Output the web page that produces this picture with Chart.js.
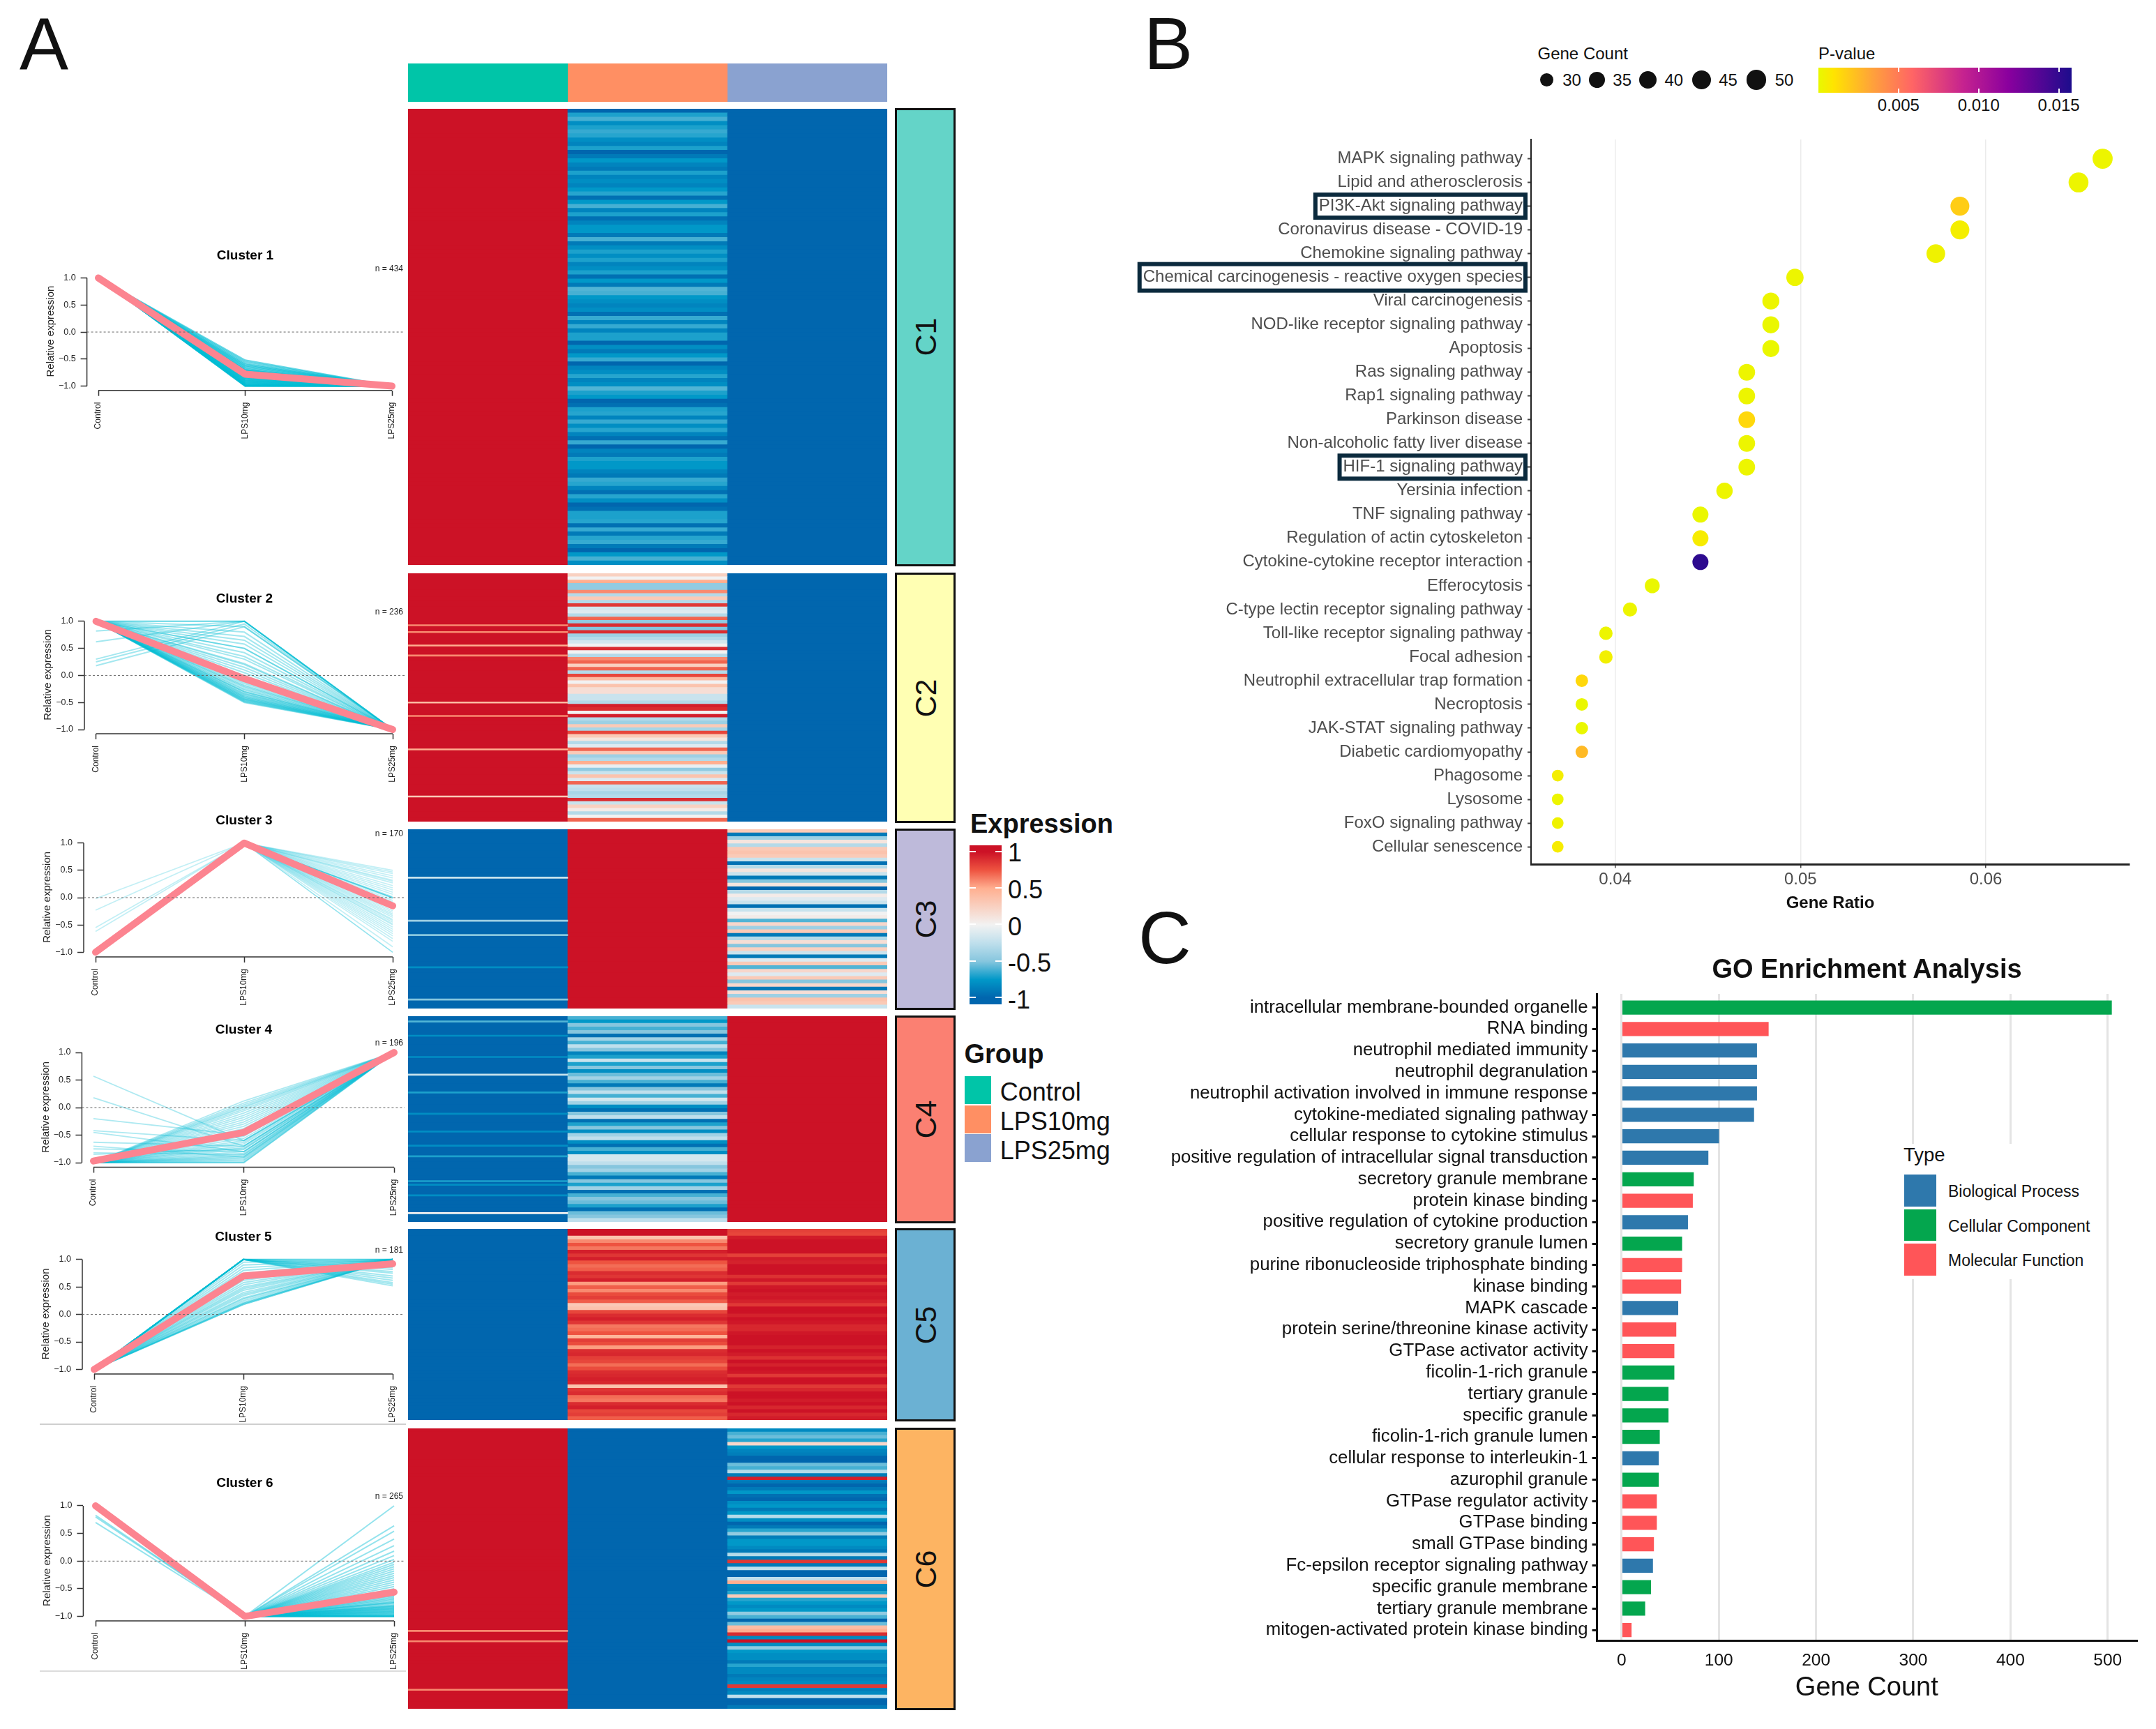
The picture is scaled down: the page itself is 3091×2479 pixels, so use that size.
<!DOCTYPE html>
<html>
<head>
<meta charset="utf-8">
<title>LPS expression clusters and enrichment</title>
<script src="https://cdn.jsdelivr.net/npm/chart.js@4/dist/chart.umd.min.js"></script>
<style>
html, body { margin: 0; padding: 0; background: #fff; }
#page { position: relative; width: 3091px; height: 2479px; overflow: hidden; background: #fff; font-family: "Liberation Sans", Arial, sans-serif; }
#page canvas { position: absolute; }
.lbl { position: absolute; white-space: nowrap; line-height: 1; }
.box { position: absolute; box-sizing: border-box; }
</style>
</head>
<body>
<div id="page"></div>
<script>
// ---- panel A: line plots ----
var groups = ['Control', 'LPS10mg', 'LPS25mg'];
var clusterNames = ['Cluster 1', 'Cluster 2', 'Cluster 3', 'Cluster 4', 'Cluster 5', 'Cluster 6'];
var clusterCounts = [434, 236, 170, 196, 181, 265];
var clusterMeans = [[1, -0.78, -1], [1, -0.06, -1], [-1, 1, -0.15], [-0.97, -0.45, 1], [-1, 0.7, 0.92], [1, -1, -0.56]];
var yTicks = [-1, -0.5, 0, 0.5, 1];

var c1Mid = [-0.52, -0.55, -0.58, -0.6, -0.62, -0.64, -0.66, -0.68, -0.7, -0.7, -0.72, -0.74, -0.75, -0.76, -0.78, -0.8, -0.8, -0.82, -0.83, -0.84, -0.85, -0.86, -0.87, -0.88, -0.89, -0.9, -0.91, -0.92, -0.93, -0.94, -0.95, -0.96, -0.96, -0.97, -0.98, -0.98, -0.99, -0.99, -1, -1];
var c2Mid = [1, 1, 0.9, 0.8, 0.72, 0.65, 0.58, 0.5, 0.5, 0.42, 0.35, 0.3, 0.22, 0.2, 0.15, 0.1, 0.05, 0, -0.05, -0.08, -0.12, -0.15, -0.18, -0.2, -0.22, -0.25, -0.27, -0.3, -0.3, -0.32, -0.34, -0.35, -0.37, -0.38, -0.4, -0.4, -0.42, -0.43, -0.44, -0.45, -0.46, -0.47, -0.48, -0.49, -0.5];
var c2OddControl = [0.18, 0.25, 0.3, 0.62, 0.82];
var c2OddMid = [0.9, 0.95, 1, 1, 1];
var c3End = [0.5, 0.47, 0.44, 0.4, 0.36, 0.32, 0.3, 0.27, 0.22, 0.18, 0.14, 0.1, 0.06, 0.02, -0.02, -0.05, -0.08, -0.12, -0.15, -0.18, -0.2, -0.24, -0.27, -0.3, -0.33, -0.36, -0.4, -0.42, -0.45, -0.48, -0.5, -0.54, -0.58, -0.62, -0.66, -0.7, -0.75, -0.8, -0.9, -1, -1];
var c3OddControl = [-0.02, -0.23, -0.55, -0.62];
var c4Mid = [0.12, 0.08, 0.05, 0.02, 0, -0.03, -0.06, -0.1, -0.14, -0.18, -0.22, -0.26, -0.3, -0.34, -0.38, -0.42, -0.46, -0.5, -0.52, -0.56, -0.6, -0.63, -0.66, -0.7, -0.73, -0.76, -0.8, -0.83, -0.86, -0.88, -0.9, -0.92, -0.94, -0.96, -0.98, -1, -1];
var c4OddControl = [0.57, 0.18, -0.2, -0.42, -0.45, -0.63, -0.7, -0.75, -0.82, -0.85];
var c4OddMid = [-0.6, -0.7, -0.5, -0.6, -0.8, -0.7, -0.9, -0.8, -0.85, -0.75];
var c5Mid = [1, 1, 0.95, 0.9, 0.85, 0.8, 0.75, 0.7, 0.66, 0.62, 0.58, 0.54, 0.5, 0.47, 0.44, 0.4, 0.37, 0.34, 0.3, 0.28, 0.25, 0.22, 0.2, 0.18, 0.18, 0.2];
var c5End = [0.52, 0.55, 0.58, 0.62, 0.66, 0.7, 0.75, 0.78, 0.82, 0.85, 0.9, 0.95];
var c6End = [1, 0.64, 0.54, 0.4, 0.28, 0.18, 0.1, 0.03, -0.02, -0.06, -0.1, -0.14, -0.18, -0.22, -0.26, -0.3, -0.34, -0.38, -0.42, -0.46, -0.5, -0.54, -0.58, -0.6, -0.62, -0.64, -0.66, -0.68, -0.7, -0.72, -0.74, -0.75, -0.76, -0.78, -0.8, -0.81, -0.82, -0.83, -0.84, -0.85, -0.86, -0.87, -0.88, -0.89, -0.9, -0.91, -0.92, -0.93, -0.94, -0.95, -0.96, -0.97, -0.98, -0.99, -1, -1];
var c6OddControl = [0.83, 0.8, 0.7];

// ---- panel A: heatmap, rows top to bottom ----
var heatC1Mid = [-1, -0.7, -0.62, -0.8, -0.7, -0.65, -0.68, -0.8, -0.85, -0.7, -1, -0.9, -0.75, -0.85, -0.9, -0.7, -0.85, -0.8, -0.85, -0.75, -0.68, -0.95, -0.75, -0.62, -0.85, -0.7, -0.95, -0.85, -0.75, -0.75, -0.9, -0.62, -0.9, -0.8, -0.7, -0.8, -0.7, -0.85, -0.8, -0.7, -0.95,
  -0.75, -0.9, -0.6, -0.62, -0.75, -0.8, -0.85, -0.8, -0.95, -0.65, -0.85, -0.65, -0.85, -0.7, -0.7, -1, -0.8, -0.9, -0.75, -0.65, -1, -0.85, -0.8, -0.68, -0.85, -0.8, -0.6, -0.7, -0.75, -1, -0.95, -0.7, -0.68, -0.85, -0.65, -0.8, -0.68, -0.85, -0.95, -0.65, -1, -0.85, -0.9, -0.7, -0.75, -0.75, -0.85, -0.9, -0.65, -0.68, -0.85, -0.95, -0.68, -0.8, -1, -0.95, -0.7, -0.7, -0.68, -0.95, -0.65, -0.9, -0.68, -0.65, -0.9, -1, -0.75, -0.62, -0.8];
var heatC2Mid = [0.25, 0, 0.5, -0.45, -0.45, 0.6, -0.3, 0.3, -0.3, 0.85, -0.15, -0.1, -0.3, 0.7, -0.45, 0.9, -0.5, 0.9, -0.4, -0.3, -0.15, 0, 0.9, 0, -0.3, 0.6, 0.7, 0.25, 0.7, -0.3, 0.8, 0.4, 0, 0.35, 0.15, 0.15, -0.2, -0.2, -0.3, 0.95, 0.9, 0, 0.95, -0.3, -0.4, 0.3, -0.35, 0.8, 0.3, 0.1, -0.3, -0.1, 0.7, 0.3, -0.4, -0.3, 0.5, -0.05, -0.45, -0.2, 0.35, -0.1, 0.7, -0.2, -0.25, -0.35, -0.3, 0.9, -0.2, 0.25, 0.05, -0.3, 0, 0.7];
var heatC3End = [0.3, -0.9, -0.4, 0.1, -0.3, 0.3, 0.35, 0.3, -0.2, -0.95, -0.3, 0.1, -0.2, -0.9, -0.5, 0.1, -1, -0.3, 0.05, -0.1, -0.2, -0.95, -0.2, 0, 0.05, -0.6, 0.2, -0.4, 0.3, -0.9, -0.3, 0.15, -0.5, 0.25, -0.2, -0.9, -0.1, 0.3, -0.6, 0.2, -0.1, 0.3, -0.5, 0.2, -0.9, 0.15, -0.4, 0.35, 0.3, -0.2];
var heatC4Mid = [-0.62, -0.75, -0.5, -0.62, -0.5, -0.95, -0.38, -0.62, -0.25, -0.5, -0.85, -0.7, -0.2, -0.7, -0.5, -0.8, -0.55, -0.38, -0.62, -0.9, -0.5, -0.25, -0.62, -0.15, -0.38, -0.8, -0.95, -0.5, -0.25, -0.95, -0.7, -0.5, -0.8, -0.38, -0.25, -0.8, -0.95, -0.62, -0.8, -0.15, -0.15, -0.25, -0.5, -0.38, -0.62, -0.9, -0.5, -0.7, -0.38, -0.95, -0.62, -0.5, -0.55, -0.7, -0.95, -0.55, -0.5, -0.25];
var heatC5Mid = [1, 1, 0.35, 0.6, 0.75, 0.65, 0.95, 0.86, 0.95, 0.75, 0.68, 0.72, 0.9, 0.86, 0.95, 0.55, 0.72, 0.6, 0.78, 0.83, 0.72, 0.3, 0.35, 0.8, 0.9, 0.95, 0.86, 0.65, 0.68, 0.75, 0.45, 0.83, 0.78, 0.55, 0.9, 0.92, 0.83, 0.8, 0.68, 0.78, 0.9, 0.92, 0.95, 0.92, 0.35, 0.86, 0.9, 0.68, 0.65, 0.9, 0.95, 0.8, 0.83, 0.72];
var heatC5End = [0.82, 0.8, 0.96, 1, 1, 1, 1, 0.82, 0.96, 0.94, 1, 1, 1, 0.88, 0.98, 0.85, 0.98, 1, 0.96, 0.98, 0.94, 0.85, 1, 1, 0.94, 1, 0.98, 0.92, 0.92, 0.98, 1, 1, 1, 0.94, 1, 0.96, 0.88, 1, 0.94, 1, 0.98, 0.85, 1, 1, 0.85, 0.92, 1, 1, 0.96, 1, 0.92, 1, 0.92, 0.96];
var heatC6End = [-0.82, -0.62, -0.55, -0.68, 0.2, -0.75, -0.85, -0.88, -1, -1, -0.55, -0.62, -0.3, -0.88, 0.95, -0.9, -1, -0.9, -0.75, -0.95, -1, -0.8, -0.75, -0.9, -0.75, -0.3, -0.8, -1, -0.9, -0.68, -0.45, -0.88, -0.75, -0.75, -0.82, -0.9, -0.3, -0.9, 0.85, -0.9, -0.25, -1, -1, -0.25, 0.5, -0.82, -0.85, -0.68, 0.3, -0.68, -0.75, -0.82, -0.75, -0.45, -0.62, -1, -0.55, 0.4, 0.5, 0.9, -0.82, 1, -0.8, -0.45, -0.75, -0.8, -0.8, -0.9, -0.68, -0.82, -0.82, -0.9, -0.85, -0.82, 0.85, -0.88, -0.82, -0.25, -1, -1, -0.9];
// thin lone lines in the otherwise flat Control column: row index, value
var heatC2ControlRows = [15, 17, 21, 24, 38, 42, 52, 66];
var heatC2ControlVals = [0.6, 0.6, 0.5, 0.6, 0.4, 0.6, 0.5, 0.3];
var heatC3ControlRows = [13, 25, 29, 38, 47];
var heatC3ControlVals = [-0.2, -0.4, -0.5, -0.8, -0.5];
var heatC4ControlRows = [1, 5, 11, 16, 21, 27, 32, 36, 39, 46, 47, 50, 55];
var heatC4ControlVals = [-0.6, -0.8, -0.8, -0.2, -0.7, -0.8, -0.8, -0.8, -0.7, -0.7, -0.8, -0.8, 0];
var heatC6ControlRows = [58, 61, 75];
var heatC6ControlVals = [0.6, 0.6, 0.6];

// ---- panel B ----
var pathways = ['MAPK signaling pathway', 'Lipid and atherosclerosis', 'PI3K-Akt signaling pathway', 'Coronavirus disease - COVID-19', 'Chemokine signaling pathway', 'Chemical carcinogenesis - reactive oxygen species', 'Viral carcinogenesis', 'NOD-like receptor signaling pathway', 'Apoptosis', 'Ras signaling pathway', 'Rap1 signaling pathway', 'Parkinson disease', 'Non-alcoholic fatty liver disease', 'HIF-1 signaling pathway', 'Yersinia infection', 'TNF signaling pathway', 'Regulation of actin cytoskeleton', 'Cytokine-cytokine receptor interaction', 'Efferocytosis', 'C-type lectin receptor signaling pathway', 'Toll-like receptor signaling pathway', 'Focal adhesion', 'Neutrophil extracellular trap formation', 'Necroptosis', 'JAK-STAT signaling pathway', 'Diabetic cardiomyopathy', 'Phagosome', 'Lysosome', 'FoxO signaling pathway', 'Cellular senescence'];
var geneRatio = [0.0663, 0.065, 0.0586, 0.0586, 0.0573, 0.0497, 0.0484, 0.0484, 0.0484, 0.0471, 0.0471, 0.0471, 0.0471, 0.0471, 0.0459, 0.0446, 0.0446, 0.0446, 0.042, 0.0408, 0.0395, 0.0395, 0.0382, 0.0382, 0.0382, 0.0382, 0.0369, 0.0369, 0.0369, 0.0369];
var pathwayCount = [50, 49, 44, 44, 43, 38, 37, 37, 37, 36, 36, 36, 36, 36, 35, 34, 34, 34, 32, 31, 30, 30, 29, 29, 29, 29, 28, 28, 28, 28];
var pathwayP = [0.0002, 0.0002, 0.0018, 0.0005, 0.0003, 0.0002, 0.0002, 0.0001, 0.0001, 0.0002, 0.0002, 0.0014, 0.0002, 0.0002, 0.0002, 0.0001, 0.0006, 0.0152, 0.0001, 0.0002, 0.0002, 0.0004, 0.0014, 0.0001, 0.0001, 0.0025, 0.0005, 0.0002, 0.0003, 0.0006];
var boxedPathways = ['PI3K-Akt signaling pathway', 'Chemical carcinogenesis - reactive oxygen species', 'HIF-1 signaling pathway'];
var ratioTicks = [0.04, 0.05, 0.06];
var countLegend = [30, 35, 40, 45, 50];
var pLegendTicks = [0.005, 0.01, 0.015];

// ---- panel C ----
var goTerms = ['intracellular membrane-bounded organelle', 'RNA binding', 'neutrophil mediated immunity', 'neutrophil degranulation', 'neutrophil activation involved in immune response', 'cytokine-mediated signaling pathway', 'cellular response to cytokine stimulus', 'positive regulation of intracellular signal transduction', 'secretory granule membrane', 'protein kinase binding', 'positive regulation of cytokine production', 'secretory granule lumen', 'purine ribonucleoside triphosphate binding', 'kinase binding', 'MAPK cascade', 'protein serine/threonine kinase activity', 'GTPase activator activity', 'ficolin-1-rich granule', 'tertiary granule', 'specific granule', 'ficolin-1-rich granule lumen', 'cellular response to interleukin-1', 'azurophil granule', 'GTPase regulator activity', 'GTPase binding', 'small GTPase binding', 'Fc-epsilon receptor signaling pathway', 'specific granule membrane', 'tertiary granule membrane', 'mitogen-activated protein kinase binding'];
var goCounts = [504, 151, 139, 139, 139, 136, 100, 89, 74, 73, 68, 62, 62, 61, 58, 56, 54, 54, 48, 48, 39, 38, 38, 36, 36, 33, 32, 30, 24, 10];
var goTypes = ['CC', 'MF', 'BP', 'BP', 'BP', 'BP', 'BP', 'BP', 'CC', 'MF', 'BP', 'CC', 'MF', 'MF', 'BP', 'MF', 'MF', 'CC', 'CC', 'CC', 'CC', 'BP', 'CC', 'MF', 'MF', 'MF', 'BP', 'CC', 'CC', 'MF'];
var typeNames = ['Biological Process', 'Cellular Component', 'Molecular Function'];
var countTicks = [0, 100, 200, 300, 400, 500];

// ---- helpers ----
var page = document.getElementById('page');
var FONT = '"Liberation Sans", Arial, sans-serif';
Chart.defaults.font.family = FONT;
Chart.defaults.animation = false;

function addCanvas(x, y, w, h) {
  var c = document.createElement('canvas');
  c.width = w; c.height = h;
  c.style.left = x + 'px'; c.style.top = y + 'px';
  c.style.width = w + 'px'; c.style.height = h + 'px';
  page.appendChild(c);
  return c;
}
function addText(str, x, y, size, o) {
  o = o || {};
  var d = document.createElement('div');
  d.className = 'lbl';
  d.textContent = str;
  d.style.left = x + 'px'; d.style.top = y + 'px';
  d.style.fontSize = size + 'px';
  d.style.fontWeight = o.weight || 'normal';
  d.style.color = o.color || '#111';
  var tx = o.align === 'center' ? '-50%' : (o.align === 'right' ? '-100%' : '0');
  d.style.transform = 'translate(' + tx + ',-50%)' + (o.rotate ? ' rotate(' + o.rotate + 'deg)' : '');
  page.appendChild(d);
}
function addBox(x, y, w, h, bg, border) {
  var d = document.createElement('div');
  d.className = 'box';
  d.style.left = x + 'px'; d.style.top = y + 'px';
  d.style.width = w + 'px'; d.style.height = h + 'px';
  d.style.background = bg;
  if (border) d.style.border = border;
  page.appendChild(d);
  return d;
}
function mixColor(stops, t) {
  if (t <= stops[0][0]) return stops[0][1];
  for (var i = 1; i < stops.length; i++) {
    if (t <= stops[i][0]) {
      var a = stops[i - 1], b = stops[i], f = (t - a[0]) / (b[0] - a[0]);
      var ca = parseInt(a[1].slice(1), 16), cb = parseInt(b[1].slice(1), 16);
      var r = Math.round((ca >> 16) + f * ((cb >> 16) - (ca >> 16)));
      var g = Math.round(((ca >> 8) & 255) + f * (((cb >> 8) & 255) - ((ca >> 8) & 255)));
      var bl = Math.round((ca & 255) + f * ((cb & 255) - (ca & 255)));
      return 'rgb(' + r + ',' + g + ',' + bl + ')';
    }
  }
  return stops[stops.length - 1][1];
}
function cssGradient(dir, stops) {
  return 'linear-gradient(' + dir + ',' + stops.map(function (s) { return s[1] + ' ' + (s[0] * 100) + '%'; }).join(',') + ')';
}
// stops tick labels from pushing the plot area in
function noPaddingY(s) { s.paddingTop = 0; s.paddingBottom = 0; }
function noPaddingX(s) { s.paddingLeft = 0; s.paddingRight = 0; }

// ---- line plots ----
var linePos = [
  { axisX: 124.6, xC: 141, xE: 562, yTop: 398.5, yBot: 553.6, axisY: 559.7, titleY: 367, nY: 385.5, alpha: 0.6, width: 2.2 },
  { axisX: 121, xC: 137.6, xE: 563, yTop: 890.8, yBot: 1046, axisY: 1052, titleY: 858.6, nY: 877.5, alpha: 0.36, width: 2 },
  { axisX: 120, xC: 137, xE: 563, yTop: 1208.7, yBot: 1365.3, axisY: 1372, titleY: 1177, nY: 1195.4, alpha: 0.24, width: 1.6 },
  { axisX: 117.4, xC: 134, xE: 565, yTop: 1509, yBot: 1667, axisY: 1673.5, titleY: 1477, nY: 1496, alpha: 0.32, width: 1.8 },
  { axisX: 118, xC: 135, xE: 563, yTop: 1805.8, yBot: 1963.4, axisY: 1970, titleY: 1774, nY: 1793, alpha: 0.36, width: 2 },
  { axisX: 119.4, xC: 137, xE: 565, yTop: 2159, yBot: 2317.6, axisY: 2324, titleY: 2126.6, nY: 2145.7, alpha: 0.42, width: 2 }
];
function pick(v, i) { return Array.isArray(v) ? v[i] : v; }
function traces(control, mid, end) {
  var n = [control, mid, end].filter(Array.isArray)[0].length, out = [];
  for (var i = 0; i < n; i++) out.push([pick(control, i), pick(mid, i), pick(end, i)]);
  return out;
}
var clusterTraces = [
  traces(1, c1Mid, -1),
  traces(1, c2Mid, -1).concat(traces(c2OddControl, c2OddMid, -1)),
  traces(-1, 1, c3End).concat(traces(c3OddControl, 1, 0)),
  traces(-1, c4Mid, 1).concat(traces(c4OddControl, c4OddMid, 1)),
  traces(-1, c5Mid, 1).concat(traces(-1, 1, c5End)),
  traces(1, -1, c6End).concat(traces(c6OddControl, -1, -1))
];

var lineAxesPlugin = {
  id: 'lineAxes',
  beforeDatasetsDraw: function (chart, args, opts) {
    var g = chart.ctx, x = chart.scales.x, y = chart.scales.y, area = chart.chartArea;
    g.save();
    g.strokeStyle = '#333'; g.lineWidth = 1.5;
    g.beginPath();
    g.moveTo(area.left, y.getPixelForValue(1)); g.lineTo(area.left, y.getPixelForValue(-1));
    g.moveTo(x.getPixelForValue(0), area.bottom); g.lineTo(x.getPixelForValue(2), area.bottom);
    g.stroke();
    g.restore();
  },
  afterDatasetsDraw: function (chart, args, opts) {
    var g = chart.ctx, y = chart.scales.y, area = chart.chartArea;
    g.save();
    g.strokeStyle = '#666'; g.lineWidth = 1; g.setLineDash([3, 3]);
    g.beginPath();
    g.moveTo(area.left, y.getPixelForValue(0)); g.lineTo(area.right, y.getPixelForValue(0));
    g.stroke();
    g.restore();
    var mid = chart.scales.x.getPixelForValue(1);
    g.save();
    g.fillStyle = '#000'; g.textBaseline = 'middle';
    g.textAlign = 'center'; g.font = 'bold 19px ' + FONT;
    g.fillText(opts.title, mid, opts.titleY);
    g.textAlign = 'right'; g.font = '12px ' + FONT;
    g.fillStyle = '#222';
    g.fillText('n = ' + opts.count, opts.nRight, opts.nY);
    g.restore();
  }
};

function lineChart(idx) {
  var p = linePos[idx];
  var left = 40, right = 590, top = Math.round(p.titleY - 20), bottom = Math.round(p.axisY + 85);
  var areaRight = 580, areaTop = p.yTop - 8;
  var perX = (p.xE - p.xC) / 2, perY = (p.yBot - p.yTop) / 2;
  var sets = [{
    data: clusterMeans[idx].map(function (v, i) { return { x: i, y: v }; }),
    borderColor: '#FC8490', borderWidth: 10, borderCapStyle: 'round', borderJoinStyle: 'round',
    pointRadius: 0, tension: 0, clip: false
  }];
  clusterTraces[idx].forEach(function (t) {
    sets.push({
      data: t.map(function (v, i) { return { x: i, y: v }; }),
      borderColor: 'rgba(0,188,212,' + p.alpha + ')', borderWidth: p.width, pointRadius: 0, tension: 0, clip: false
    });
  });
  new Chart(addCanvas(left, top, right - left, bottom - top), {
    type: 'line',
    data: { datasets: sets },
    plugins: [lineAxesPlugin],
    options: {
      responsive: false, devicePixelRatio: 1, animation: false,
      layout: { autoPadding: false, padding: { top: areaTop - top, right: right - areaRight, left: 0, bottom: 0 } },
      plugins: {
        legend: { display: false }, tooltip: { enabled: false },
        lineAxes: { title: clusterNames[idx], count: clusterCounts[idx], titleY: p.titleY - top, nY: p.nY - top, nRight: 578 - left }
      },
      scales: {
        x: {
          type: 'linear',
          min: (p.axisX - p.xC) / perX, max: (areaRight - p.xC) / perX,
          afterBuildTicks: function (s) { s.ticks = groups.map(function (g, i) { return { value: i }; }); },
          afterFit: function (s) { s.height = bottom - p.axisY; noPaddingX(s); },
          border: { display: false },
          grid: { drawOnChartArea: false, tickLength: 8, tickColor: '#333', tickWidth: 1.5 },
          ticks: {
            autoSkip: false, maxRotation: 90, minRotation: 90, padding: 9, color: '#222',
            font: { size: 12 },
            callback: function (v) { return groups[v]; }
          }
        },
        y: {
          min: -1 - (p.axisY - p.yBot) / perY, max: 1 + (p.yTop - areaTop) / perY,
          afterBuildTicks: function (s) { s.ticks = yTicks.map(function (v) { return { value: v }; }); },
          afterFit: function (s) { s.width = p.axisX - left; noPaddingY(s); },
          border: { display: false },
          grid: { drawOnChartArea: false, tickLength: 9, tickColor: '#333', tickWidth: 1.5 },
          ticks: {
            padding: 7, color: '#222', font: { size: 12.5 },
            callback: function (v) { return v.toFixed(1).replace('-', '\u2212'); }
          },
          title: {
            display: true, text: 'Relative expression', color: '#222',
            font: { size: 15 }, padding: { top: p.axisX - 52 - left - 9, bottom: 0 }
          }
        }
      }
    }
  });
}
for (var li = 0; li < linePos.length; li++) lineChart(li);
addBox(57, 2041, 525, 2, '#cfcfcf');
addBox(57, 2395, 525, 2, '#dcdcdc');

// ---- heatmap ----
var heatStops = [[-1, '#0166AE'], [-0.75, '#0198C8'], [-0.5, '#86C6DE'], [-0.25, '#BFDFEC'], [0, '#F2F2F2'], [0.5, '#FFAF90'], [0.75, '#EE5340'], [1, '#CC1226']];
function heatColor(v) { return mixColor(heatStops, v); }
function flat(value, rows) { return rows.map(function () { return value; }); }
var heatPos = [[155.7, 810], [822, 1178], [1188.5, 1446], [1456.5, 1752], [1762, 2036], [2048, 2450]];
var heatCols = [
  [flat(1, heatC1Mid), heatC1Mid, flat(-1, heatC1Mid)],
  [flat(1, heatC2Mid), heatC2Mid, flat(-1, heatC2Mid)],
  [flat(-1, heatC3End), flat(1, heatC3End), heatC3End],
  [flat(-1, heatC4Mid), heatC4Mid, flat(1, heatC4Mid)],
  [flat(-1, heatC5Mid), heatC5Mid, heatC5End],
  [flat(1, heatC6End), flat(-1, heatC6End), heatC6End]
];
var heatLines = [
  [[], []],
  [heatC2ControlRows, heatC2ControlVals],
  [heatC3ControlRows, heatC3ControlVals],
  [heatC4ControlRows, heatC4ControlVals],
  [[], []],
  [heatC6ControlRows, heatC6ControlVals]
];
function heatChart(idx) {
  var cols = heatCols[idx], n = cols[0].length, y0 = Math.round(heatPos[idx][0]), y1 = Math.round(heatPos[idx][1]);
  var sets = [];
  heatLines[idx][0].forEach(function (r, i) {
    sets.push({
      data: [[r + 0.3, r + 0.7], null, null],
      backgroundColor: heatColor(heatLines[idx][1][i]),
      borderWidth: 0
    });
  });
  for (var r = n - 1; r >= 0; r--) {
    sets.push({
      data: [[r, r + 1.15], [r, r + 1.15], [r, r + 1.15]],
      backgroundColor: [heatColor(cols[0][r]), heatColor(cols[1][r]), heatColor(cols[2][r])],
      borderWidth: 0
    });
  }
  new Chart(addCanvas(585, y0, 687, y1 - y0), {
    type: 'bar',
    data: { labels: groups, datasets: sets },
    options: {
      responsive: false, devicePixelRatio: 1, animation: false,
      layout: { autoPadding: false, padding: 0 },
      plugins: { legend: { display: false }, tooltip: { enabled: false } },
      datasets: { bar: { grouped: false, barPercentage: 1, categoryPercentage: 1 } },
      scales: {
        x: { display: false },
        y: { display: false, reverse: true, min: 0, max: n }
      }
    }
  });
}
for (var hi = 0; hi < heatPos.length; hi++) heatChart(hi);

// top colour strip and cluster strip
var groupColors = ['#00C5A8', '#FF8F63', '#8AA2D0'];
groupColors.forEach(function (c, i) { addBox(585 + i * 229, 91, 229, 54.5, c); });
var stripColors = ['#64D4C8', '#FFFFB3', '#BEBADA', '#FB8072', '#6BB1D3', '#FDB462'];
stripColors.forEach(function (c, i) {
  var y0 = heatPos[i][0] - 1, y1 = heatPos[i][1] + 2;
  addBox(1283, y0, 87, y1 - y0, c, '3.5px solid #111');
  addText('C' + (i + 1), 1327, (y0 + y1) / 2, 43, { align: 'center', rotate: -90 });
});

// expression legend
addText('Expression', 1391, 1181, 38, { weight: 'bold' });
var barStops = heatStops.map(function (s) { return [(s[0] + 1.09) / 2.18, s[1]]; });
addBox(1390, 1212, 46, 228, cssGradient('to top', [[0, '#0166AE']].concat(barStops, [[1, '#CC1226']])));
[1, 0.5, 0, -0.5, -1].forEach(function (v, i) {
  var y = 1220.5 + i * 52.4;
  addBox(1390, y - 1, 9, 2, '#fff');
  addBox(1427, y - 1, 9, 2, '#fff');
  addText(String(v), 1445, y + 2.5 + i * 0.4, 36);
});

// group legend
addText('Group', 1382.5, 1511, 38, { weight: 'bold' });
groups.forEach(function (g, i) {
  addBox(1383, 1543 + i * 41.6, 38, 40, groupColors[i]);
  addText(g, 1433.7, 1566 + i * 42, 36);
});

// panel letters
addText('A', 28, 62, 105);
addText('B', 1640, 62, 105);
addText('C', 1632, 1344, 105);

// ---- panel B bubble chart ----
var pStops = [[0, '#E8F900'], [0.06, '#FFE400'], [0.22, '#FF9F3D'], [0.37, '#FF6565'], [0.57, '#C6238F'], [0.75, '#8A009E'], [1, '#1C0C8C']];
var pMax = 0.0158;
function pColor(p) { return mixColor(pStops, p / pMax); }
var radiusCounts = [28, 30, 32, 34, 37, 43, 50];
var radiusPx = [8.4, 9.6, 10.7, 11.5, 12.2, 13.4, 14.4];
function countRadius(n) {
  for (var i = 1; i < radiusCounts.length; i++) {
    if (n <= radiusCounts[i]) {
      return radiusPx[i - 1] + (n - radiusCounts[i - 1]) * (radiusPx[i] - radiusPx[i - 1]) / (radiusCounts[i] - radiusCounts[i - 1]);
    }
  }
  return radiusPx[radiusPx.length - 1];
}

var boxPlugin = {
  id: 'pathBoxes',
  afterDraw: function (chart) {
    var g = chart.ctx, y = chart.scales.y, right = chart.chartArea.left - 8;
    g.save();
    g.font = '24px ' + FONT;
    g.strokeStyle = '#0B2A3D'; g.lineWidth = 6;
    boxedPathways.forEach(function (name) {
      var i = pathways.indexOf(name), w = g.measureText(name).width + 9;
      var half = name.indexOf('Chemical') === 0 ? 19 : 16.5;
      g.strokeRect(right - w, y.getPixelForValue(i) - half, w, half * 2);
    });
    g.restore();
  }
};
new Chart(addCanvas(1620, 190, 1471, 1130), {
  type: 'bubble',
  data: {
    datasets: [{
      data: geneRatio.map(function (v, i) { return { x: v, y: i, r: countRadius(pathwayCount[i]) }; }),
      backgroundColor: pathwayP.map(pColor),
      borderWidth: 0
    }]
  },
  plugins: [boxPlugin],
  options: {
    responsive: false, devicePixelRatio: 1, animation: false,
    layout: { autoPadding: false, padding: { top: 10, right: 38, left: 0, bottom: 0 } },
    plugins: { legend: { display: false }, tooltip: { enabled: false } },
    scales: {
      x: {
        type: 'linear', min: 0.03546, max: 0.06775,
        afterBuildTicks: function (s) { s.ticks = ratioTicks.map(function (v) { return { value: v }; }); },
        afterFit: function (s) { s.height = 80.4; noPaddingX(s); },
        border: { color: '#222', width: 3 },
        grid: { color: '#ebebeb', lineWidth: 1.5, tickLength: 5, tickColor: '#444' },
        ticks: { color: '#4d4d4d', padding: 2, font: { size: 24 }, callback: function (v) { return v.toFixed(2); } },
        title: { display: true, text: 'Gene Ratio', color: '#111', font: { size: 24, weight: 'bold' }, padding: { top: 0, bottom: 10 } }
      },
      y: {
        type: 'linear', reverse: true, min: -0.81, max: 29.75,
        afterBuildTicks: function (s) { s.ticks = pathways.map(function (n, i) { return { value: i }; }); },
        afterFit: function (s) { s.width = 575; noPaddingY(s); },
        border: { color: '#222', width: 2 },
        grid: { drawOnChartArea: false, tickLength: 5, tickColor: '#444', tickWidth: 2 },
        ticks: { autoSkip: false, color: '#4d4d4d', padding: 7, font: { size: 24 }, callback: function (v) { return pathways[v]; } }
      }
    }
  }
});

// gene count / p-value legends
addText('Gene Count', 2204.5, 77, 24);
var legendDotX = [2217.5, 2289.6, 2362.7, 2439.6, 2518];
var legendLabelX = [2253.5, 2325.7, 2399.8, 2477.5, 2558];
countLegend.forEach(function (n, i) {
  var r = countRadius(n);
  var dot = addBox(legendDotX[i] - r, 114.5 - r, 2 * r, 2 * r, '#111');
  dot.style.borderRadius = '50%';
  addText(String(n), legendLabelX[i], 114.5, 24, { align: 'center' });
});
addText('P-value', 2607, 77, 24);
addBox(2607, 96.7, 363, 36, cssGradient('to right', pStops));
pLegendTicks.forEach(function (p) {
  var x = 2607 + 363 * p / pMax;
  addBox(x - 1, 96.7, 2, 6, '#fff');
  addBox(x - 1, 126.7, 2, 6, '#fff');
  addText(p.toFixed(3), x, 150.7, 24, { align: 'center' });
});

// ---- panel C bar chart ----
var typeColors = { BP: '#2E78AC', CC: '#04A64E', MF: '#FF5558' };
new Chart(addCanvas(1620, 1360, 1471, 1119), {
  type: 'bar',
  data: {
    datasets: [{
      data: goCounts.map(function (v, i) { return { x: v, y: i }; }),
      backgroundColor: goTypes.map(function (t) { return typeColors[t]; }),
      barThickness: 19.6, borderWidth: 0
    }]
  },
  options: {
    indexAxis: 'y',
    responsive: false, devicePixelRatio: 1, animation: false,
    layout: { autoPadding: false, padding: { top: 65, right: 28, left: 0, bottom: 0 } },
    plugins: { legend: { display: false }, tooltip: { enabled: false } },
    scales: {
      x: {
        type: 'linear', min: -25.3, max: 529.6,
        afterBuildTicks: function (s) { s.ticks = countTicks.map(function (v) { return { value: v }; }); },
        afterFit: function (s) { s.height = 126.4; noPaddingX(s); },
        border: { color: '#111', width: 3 },
        grid: { color: '#e4e4e4', lineWidth: 3, drawTicks: false },
        ticks: { color: '#111', padding: 14, font: { size: 24.5 } },
        title: { display: true, text: 'Gene Count', color: '#111', font: { size: 38 }, padding: { top: 0, bottom: 36 } }
      },
      y: {
        type: 'linear', reverse: true, min: -0.634, max: 29.5, offset: false,
        afterBuildTicks: function (s) { s.ticks = goTerms.map(function (n, i) { return { value: i }; }); },
        afterFit: function (s) { s.width = 669.6; noPaddingY(s); },
        border: { color: '#111', width: 3 },
        grid: { offset: false, drawOnChartArea: false, tickLength: 7, tickColor: '#111', tickWidth: 3 },
        ticks: { autoSkip: false, color: '#111', padding: 6, font: { size: 25.8 }, callback: function (v) { return goTerms[v]; } }
      }
    }
  }
});
addText('GO Enrichment Analysis', 2676.5, 1389, 38, { align: 'center', weight: 'bold' });

// type legend
addBox(2715, 1640, 295, 194, '#fff');
addText('Type', 2729, 1656, 27.5);
var typeKeys = ['BP', 'CC', 'MF'];
typeNames.forEach(function (t, i) {
  addBox(2730, 1684 + i * 49.5, 46, 45.5, typeColors[typeKeys[i]]);
  addText(t, 2793, 1708 + i * 49.5, 23);
});
</script>
</body>
</html>
